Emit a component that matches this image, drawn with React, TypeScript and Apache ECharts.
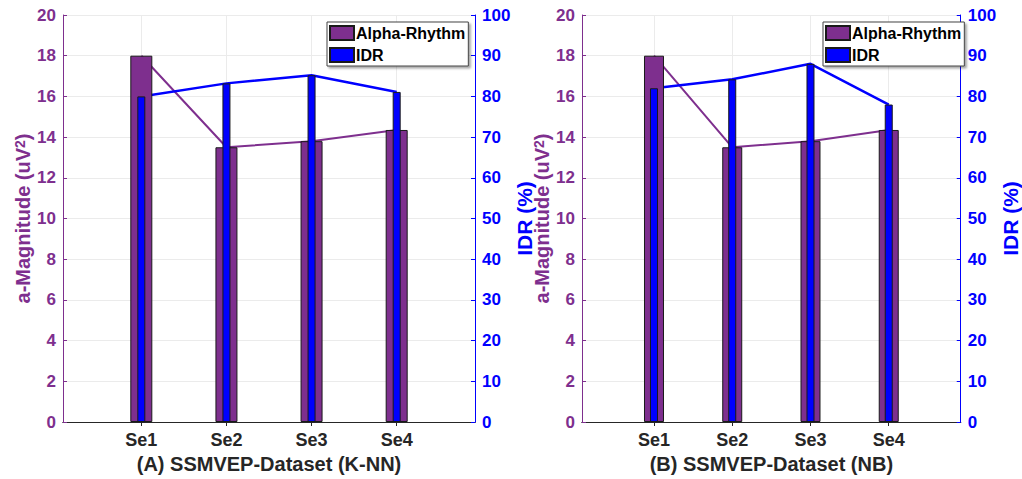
import React, { useEffect, useRef } from "react";
import * as echarts from "echarts";

const categories = ["Se1", "Se2", "Se3", "Se4"];
const categoryPositions = [1, 2, 3, 4];
const alphaKNN = [18, 13.5, 13.8, 14.35];
const idrKNN = [80, 83.2, 85.2, 81.1];
const alphaNB = [18, 13.5, 13.8, 14.35];
const idrNB = [82, 84.2, 88, 78];
const titleKNN = "(A) SSMVEP-Dataset (K-NN)";
const titleNB = "(B) SSMVEP-Dataset (NB)";
const legendNames = ["Alpha-Rhythm", "IDR"];

const PURPLE = "#7E2F8E";
const BLUE = "#0000FF";
const DARK = "#262626";
const FONT = "'Liberation Sans', Arial, sans-serif";

type Panel = {
  alpha: number[];
  idr: number[];
  title: string;
  left: number;
  width: number;
  purpleW: number;
  blueW: number;
  legendLeft: number;
  idrGap: number;
};

const panels: Panel[] = [
  { alpha: alphaKNN, idr: idrKNN, title: titleKNN, left: 63, width: 412, purpleW: 22, blueW: 8, legendLeft: 327, idrGap: 28 },
  { alpha: alphaNB, idr: idrNB, title: titleNB, left: 582, width: 389, purpleW: 20, blueW: 8, legendLeft: 823, idrGap: 33 },
];

function buildOption() {
  const grid: any[] = [];
  const xAxis: any[] = [];
  const yAxis: any[] = [];
  const series: any[] = [];
  const legend: any[] = [];

  panels.forEach((p, g) => {
    grid.push({ left: p.left, top: 15, width: p.width, height: 407, containLabel: false });
    xAxis.push({
      type: "value",
      gridIndex: g,
      position: "bottom",
      min: 0.08,
      max: 4.92,
      name: p.title,
      nameLocation: "middle",
      nameGap: 32,
      nameTextStyle: { fontFamily: FONT, fontWeight: "bold", fontSize: 20, color: DARK },
      axisLine: { show: true, lineStyle: { color: DARK, width: 1 } },
      axisTick: { show: true, inside: true, length: 4, customValues: categoryPositions, lineStyle: { color: DARK } },
      axisLabel: {
        customValues: categoryPositions,
        formatter: (v: number) => categories[Math.round(v) - 1] ?? "",
        fontFamily: FONT,
        fontWeight: "bold",
        fontSize: 18,
        color: DARK,
        margin: 9,
      },
      splitLine: { show: true, lineStyle: { color: "#ebebeb", width: 1 } },
    });
    xAxis.push({
      type: "value",
      gridIndex: g,
      position: "top",
      min: 0.08,
      max: 4.92,
      axisLine: { show: true, lineStyle: { color: DARK, width: 1 } },
      axisTick: { show: true, inside: true, length: 4, customValues: categoryPositions, lineStyle: { color: DARK } },
      axisLabel: { show: false, customValues: categoryPositions },
      splitLine: { show: false },
    });
    yAxis.push({
      type: "value",
      gridIndex: g,
      position: "left",
      min: 0,
      max: 20,
      interval: 2,
      name: "{a|a-Magnitude (uV}{s|2}{a|)}",
      nameLocation: "middle",
      nameGap: 30,
      nameTextStyle: {
        rich: {
          a: { fontFamily: FONT, fontWeight: "bold", fontSize: 20, color: PURPLE },
          s: { fontFamily: FONT, fontWeight: "bold", fontSize: 14, color: PURPLE, verticalAlign: "top" },
        },
      },
      axisLine: { show: true, lineStyle: { color: PURPLE, width: 1 } },
      axisTick: { show: true, inside: true, length: 4, lineStyle: { color: PURPLE } },
      axisLabel: { fontFamily: FONT, fontWeight: "bold", fontSize: 17, color: PURPLE, margin: 7 },
      splitLine: { show: true, lineStyle: { color: "#ebebeb", width: 1 } },
    });
    yAxis.push({
      type: "value",
      gridIndex: g,
      position: "right",
      min: 0,
      max: 100,
      interval: 10,
      name: "IDR (%)",
      nameLocation: "middle",
      nameGap: p.idrGap,
      nameTextStyle: { fontFamily: FONT, fontWeight: "bold", fontSize: 21, color: BLUE },
      axisLine: { show: true, lineStyle: { color: BLUE, width: 1 } },
      axisTick: { show: true, inside: true, length: 4, lineStyle: { color: BLUE } },
      axisLabel: { fontFamily: FONT, fontWeight: "bold", fontSize: 17, color: BLUE, margin: 7 },
      splitLine: { show: false },
    });

    series.push({
      type: "line",
      name: "alpha-line",
      xAxisIndex: 2 * g,
      yAxisIndex: 2 * g,
      data: p.alpha.map((v, i) => [categoryPositions[i], v]),
      symbol: "none",
      z: 1,
      lineStyle: { color: PURPLE, width: 2 },
      itemStyle: { color: PURPLE },
    });
    series.push({
      type: "line",
      name: "idr-line",
      xAxisIndex: 2 * g + 1,
      yAxisIndex: 2 * g + 1,
      data: p.idr.map((v, i) => [categoryPositions[i], v]),
      symbol: "none",
      z: 1,
      lineStyle: { color: BLUE, width: 2.5 },
      itemStyle: { color: BLUE },
    });
    series.push({
      type: "bar",
      name: legendNames[0],
      xAxisIndex: 2 * g,
      yAxisIndex: 2 * g,
      data: p.alpha.map((v, i) => [categoryPositions[i], v]),
      barWidth: p.purpleW,
      z: 2,
      itemStyle: { color: PURPLE, borderColor: "#1a1a1a", borderWidth: 1 },
    });
    series.push({
      type: "bar",
      name: legendNames[1],
      xAxisIndex: 2 * g + 1,
      yAxisIndex: 2 * g + 1,
      data: p.idr.map((v, i) => [categoryPositions[i], v]),
      barWidth: p.blueW,
      z: 3,
      itemStyle: { color: BLUE, borderColor: "#1a1a1a", borderWidth: 1 },
    });

    legend.push({
      orient: "vertical",
      left: p.legendLeft,
      top: 22,
      itemWidth: 24,
      itemHeight: 14,
      itemGap: 6,
      padding: [3, 3, 3, 2],
      borderColor: "#444",
      borderWidth: 1,
      backgroundColor: "#fff",
      shadowColor: "rgba(0,0,0,0.35)",
      shadowOffsetX: 2,
      shadowOffsetY: 2,
      shadowBlur: 2,
      selectedMode: false,
      icon: "rect",
      textStyle: { fontFamily: FONT, fontWeight: "bold", fontSize: 16, color: "#000", padding: [0, 0, 0, -3] },
      data: legendNames,
    });
  });

  return {
    animation: false,
    backgroundColor: "#fff",
    textStyle: { fontFamily: FONT },
    grid,
    xAxis,
    yAxis,
    legend,
    series,
  };
}

export default function App() {
  const ref = useRef<HTMLDivElement>(null);
  useEffect(() => {
    if (!ref.current) return;
    const chart = echarts.init(ref.current, undefined, { renderer: "svg" });
    chart.setOption(buildOption());
    return () => chart.dispose();
  }, []);
  return (
    <div
      ref={ref}
      style={{ position: "fixed", left: 0, top: 0, width: 1022, height: 479, background: "#fff" }}
    />
  );
}
